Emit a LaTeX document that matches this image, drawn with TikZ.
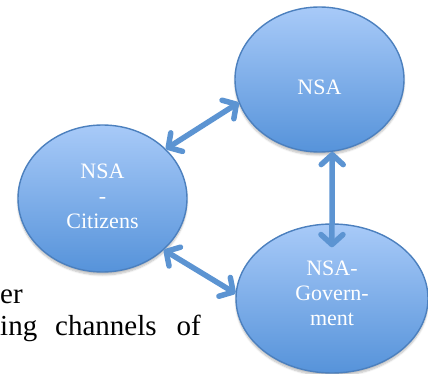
\documentclass[tikz,border=0pt]{standalone}
\usepackage{fontspec}
\setmainfont{Liberation Serif}
\usepackage{tikz}
\usetikzlibrary{shapes.geometric, arrows.meta, positioning, shadows.blur}
\definecolor{nsatop}{RGB}{168,202,248}
\definecolor{nsabottom}{RGB}{86,147,218}
\definecolor{nsaedge}{RGB}{76,128,190}
\definecolor{nsaarrow}{RGB}{92,148,210}
\tikzstyle{link} = [draw=nsaarrow, line width=5.5pt, line cap=round, <->, >={Straight Barb[length=10pt, width=22pt, round]}]

\begin{document}
\begin{tikzpicture}[
    x=1pt, y=-1pt,
    bubble/.style={ellipse, draw=nsaedge, line width=1.4pt, top color=nsatop, bottom color=nsabottom,
        inner sep=0pt, blur shadow={shadow xshift=0pt, shadow yshift=-3pt, shadow opacity=25, shadow blur steps=6}},
    bubbletext/.style={text=white, align=center, inner sep=0pt, font=\fontsize{22}{25}\selectfont},
    pagetext/.style={anchor=base west, inner sep=0pt, font=\fontsize{29}{34}\selectfont}
]
\useasboundingbox (0,0) rectangle (428,374);

% Page text
\node[pagetext] (line1) at (0,303) {er};
\node[pagetext] (line2) at (0,335) {ing\hspace{18pt}channels\hspace{20pt}of};

% Bubbles
\node[bubble, minimum width=169pt, minimum height=147pt] (cit) at (102.5,198.5) {};
\node[bubble, minimum width=169pt, minimum height=145pt] (nsa) at (319.5,79.5) {};
\node[bubble, minimum width=192pt, minimum height=149pt] (gov) at (332,298.5) {};

% Labels
\node[bubbletext, yshift=-8pt] (nsatext) at (nsa) {NSA};
\node[bubbletext, yshift=2pt] (cittext) at (cit) {NSA\\-\\Citizens};
\node[bubbletext, yshift=5pt] (govtext) at (gov) {NSA-\\Govern-\\ment};

% Links
\draw[link] (cit.38) -- (nsa.196);
\draw[link, shorten >=-24pt] (nsa.-80) -- (gov.north);
\draw[link] (cit.-40) -- (gov.177);

\end{tikzpicture}
\end{document}
